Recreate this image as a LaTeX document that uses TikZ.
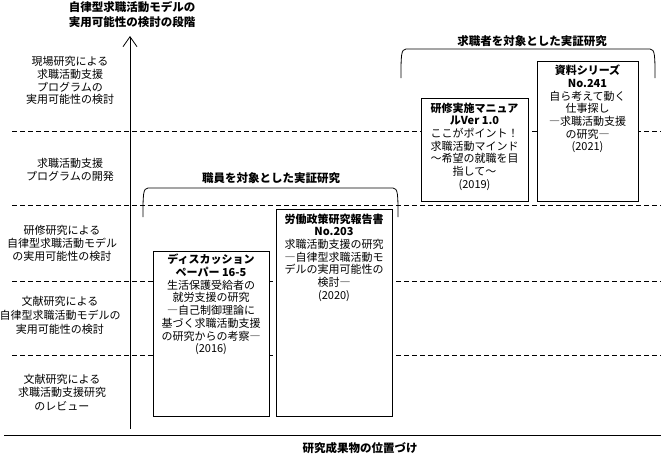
\documentclass[tikz,border=0pt]{standalone}
\usepackage{fontspec}
\setmainfont{Noto Sans CJK JP}
\usetikzlibrary{arrows.meta}
\begin{document}
\begin{tikzpicture}[x=1pt,y=-1pt,
  lab/.style={align=center,inner sep=0pt,font=\fontsize{11}{12.7}\selectfont},
  labw/.style={align=center,inner sep=0pt,font=\fontsize{11}{13.8}\selectfont},
  head/.style={align=center,inner sep=0pt,font=\fontsize{11.5}{15}\selectfont\bfseries},
  box/.style={draw,fill=white,line width=0.8pt,inner sep=0pt},
  grid/.style={dash pattern=on 5pt off 3pt,line width=0.6pt},
  brk/.style={line width=0.8pt}]
\useasboundingbox (0,0) rectangle (661,455);
% dashed level lines
\coordinate (d1l) at (12,131.5); \coordinate (d1r) at (661,131.5);
\coordinate (d2l) at (12,205.5); \coordinate (d2r) at (661,205.5);
\coordinate (d3l) at (12,281); \coordinate (d3r) at (661,281);
\coordinate (d4l) at (12,355); \coordinate (d4r) at (661,355);
\draw[grid] (d1l) -- (d1r);
\draw[grid] (d2l) -- (d2r);
\draw[grid] (d3l) -- (d3r);
\draw[grid] (d4l) -- (d4r);
% axes
\coordinate (ax0) at (130,429); \coordinate (ax1) at (130,36);
\draw[line width=0.8pt,-{Straight Barb[length=10pt,width=14pt,line width=0.8pt]}] (ax0) -- (ax1);
\coordinate (bl) at (4,435.5); \coordinate (br) at (661,435.5);
\draw[line width=0.8pt] (bl) -- (br);
% titles
\node[head] (title) at (132,14.5) {自律型求職活動モデルの\\実用可能性の検討の段階};
\node[head] (xlab) at (360,448) {研究成果物の位置づけ};
% level labels
\node[lab] (l5) at (70,80.5) {現場研究による\\求職活動支援\\プログラムの\\実用可能性の検討};
\node[lab] (l4) at (70,169.5) {求職活動支援\\プログラムの開発};
\node[lab] (l3) at (62,243.5) {研修研究による\\自律型求職活動モデル\\の実用可能性の検討};
\node[labw] (l2) at (60,315.5) {文献研究による\\自律型求職活動モデルの\\実用可能性の検討};
\node[labw] (l1) at (62,392.5) {文献研究による\\求職活動支援研究\\のレビュー};
% brackets
\draw[brk] (143,217) .. controls (143,195) and (143,188) .. (148,188) -- (393,188) .. controls (398,188) and (398,195) .. (398,217);
\node[head] (staff) at (271,178.5) {職員を対象とした実証研究};
\draw[brk] (401,78) .. controls (401,56) and (401,49) .. (406,49) -- (650,49) .. controls (655,49) and (655,56) .. (655,78);
\node[head] (seek) at (532,41) {求職者を対象とした実証研究};
% boxes
\node[box,minimum width=116pt,minimum height=165pt] (b1) at (211,333.5) {};
\node[box,minimum width=116pt,minimum height=207pt] (b2) at (334,312.5) {};
\node[box,minimum width=107pt,minimum height=103pt] (b3) at (474.5,149.5) {};
\node[box,minimum width=101pt,minimum height=140pt] (b4) at (587.5,131) {};
\node[lab] (t1) at (211,304.5) {\textbf{ディスカッション}\\\textbf{ペーパー 16-5}\\生活保護受給者の\\就労支援の研究\\―自己制御理論に\\基づく求職活動支援\\の研究からの考察―\\(2016)};
\node[lab] (t2) at (334,257.5) {\textbf{労働政策研究報告書}\\\textbf{No.203}\\求職活動支援の研究\\―自律型求職活動モ\\デルの実用可能性の\\検討―\\(2020)};
\node[lab] (t3) at (474.5,146.5) {\textbf{研修実施マニュア}\\\textbf{ルVer 1.0}\\ここがポイント！\\求職活動マインド\\～希望の就職を目\\指して～\\(2019)};
\node[lab] (t4) at (587.5,109) {\textbf{資料シリーズ}\\\textbf{No.241}\\自ら考えて動く\\仕事探し\\―求職活動支援\\の研究―\\(2021)};
\end{tikzpicture}
\end{document}
